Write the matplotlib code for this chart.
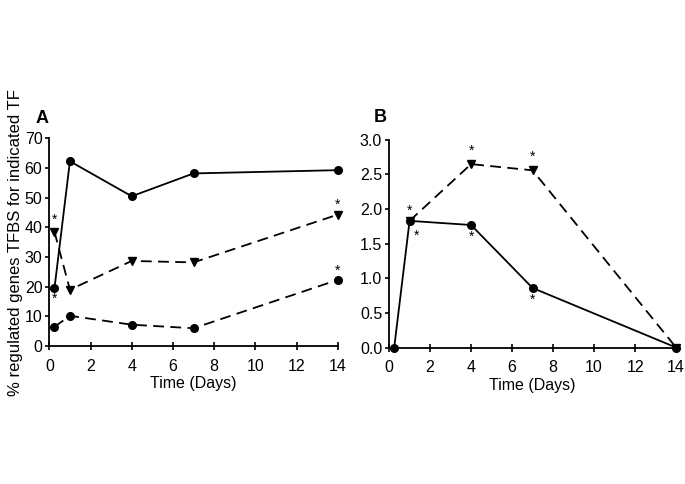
import matplotlib
matplotlib.use("Agg")
import matplotlib.pyplot as plt

plt.rcParams['font.family'] = ['Liberation Sans', 'DejaVu Sans']

# panel A data
days_a = [0.25, 1, 4, 7, 14]
a_solid = [19.5, 62.3, 50.5, 58.2, 59.3]
a_tri = [38.5, 19.0, 28.7, 28.2, 44.3]
a_dash = [6.5, 10.2, 7.2, 6.0, 22.3]
a_star_x = [0.25, 0.25, 14, 14]
a_star_y = [42.5, 16.0, 47.5, 25.5]

# panel B data
days_b = [0.25, 1, 4, 7, 14]
b_solid = [0.0, 1.83, 1.77, 0.86, 0.0]
days_b2 = [1, 4, 7, 14]
b_tri = [1.83, 2.65, 2.56, 0.0]
b_star_x = [1, 1.35, 4, 7, 4, 7]
b_star_y = [1.98, 1.62, 2.84, 2.75, 1.6, 0.69]

fig = plt.figure(figsize=(6.85, 4.84), dpi=100)
ax1 = fig.add_axes([0.072, 0.285, 0.421, 0.429])
ax2 = fig.add_axes([0.568, 0.282, 0.419, 0.429])

dash = (0, (6, 3.5))

ax1.plot(days_a, a_solid, '-', color='black', lw=1.3, marker='o', ms=5.5, clip_on=False)
ax1.plot(days_a, a_tri, linestyle=dash, color='black', lw=1.3, marker='v', ms=5.5, clip_on=False)
ax1.plot(days_a, a_dash, linestyle=dash, color='black', lw=1.3, marker='o', ms=5.5, clip_on=False)
for x, y in zip(a_star_x, a_star_y):
    ax1.text(x, y, '*', ha='center', va='center', fontsize=10)

ax2.plot(days_b2, b_tri, linestyle=dash, color='black', lw=1.3, marker='v', ms=5.5, clip_on=False)
ax2.plot(days_b, b_solid, '-', color='black', lw=1.3, marker='o', ms=5.5, clip_on=False)
for x, y in zip(b_star_x, b_star_y):
    ax2.text(x, y, '*', ha='center', va='center', fontsize=10)

ax1.set_xlim(0, 14)
ax1.set_ylim(0, 70)
ax1.set_yticks(range(0, 71, 10))
ax2.set_xlim(0, 14)
ax2.set_ylim(0, 3.0)
ax2.set_yticks([0, 0.5, 1.0, 1.5, 2.0, 2.5, 3.0])
ax2.set_yticklabels(['0.0', '0.5', '1.0', '1.5', '2.0', '2.5', '3.0'])

for ax in (ax1, ax2):
    ax.set_xticks(range(0, 15, 2))
    ax.spines['top'].set_visible(False)
    ax.spines['right'].set_visible(False)
    ax.spines['left'].set_linewidth(1.3)
    ax.spines['bottom'].set_linewidth(1.3)
    ax.tick_params(axis='x', direction='inout', length=6, width=1.2, labelsize=11.5, pad=6)
    ax.tick_params(axis='y', direction='out', length=3, width=1.2, labelsize=11.5, pad=2)
    ax.set_xlabel('Time (Days)', fontsize=11.5, labelpad=2)

ax1.set_ylabel('% regulated genes TFBS for indicated TF', fontsize=12, labelpad=1)

fig.text(0.052, 0.745, 'A', fontsize=13, fontweight='bold')
fig.text(0.545, 0.748, 'B', fontsize=13, fontweight='bold')

fig.savefig('out.png', dpi=100)
